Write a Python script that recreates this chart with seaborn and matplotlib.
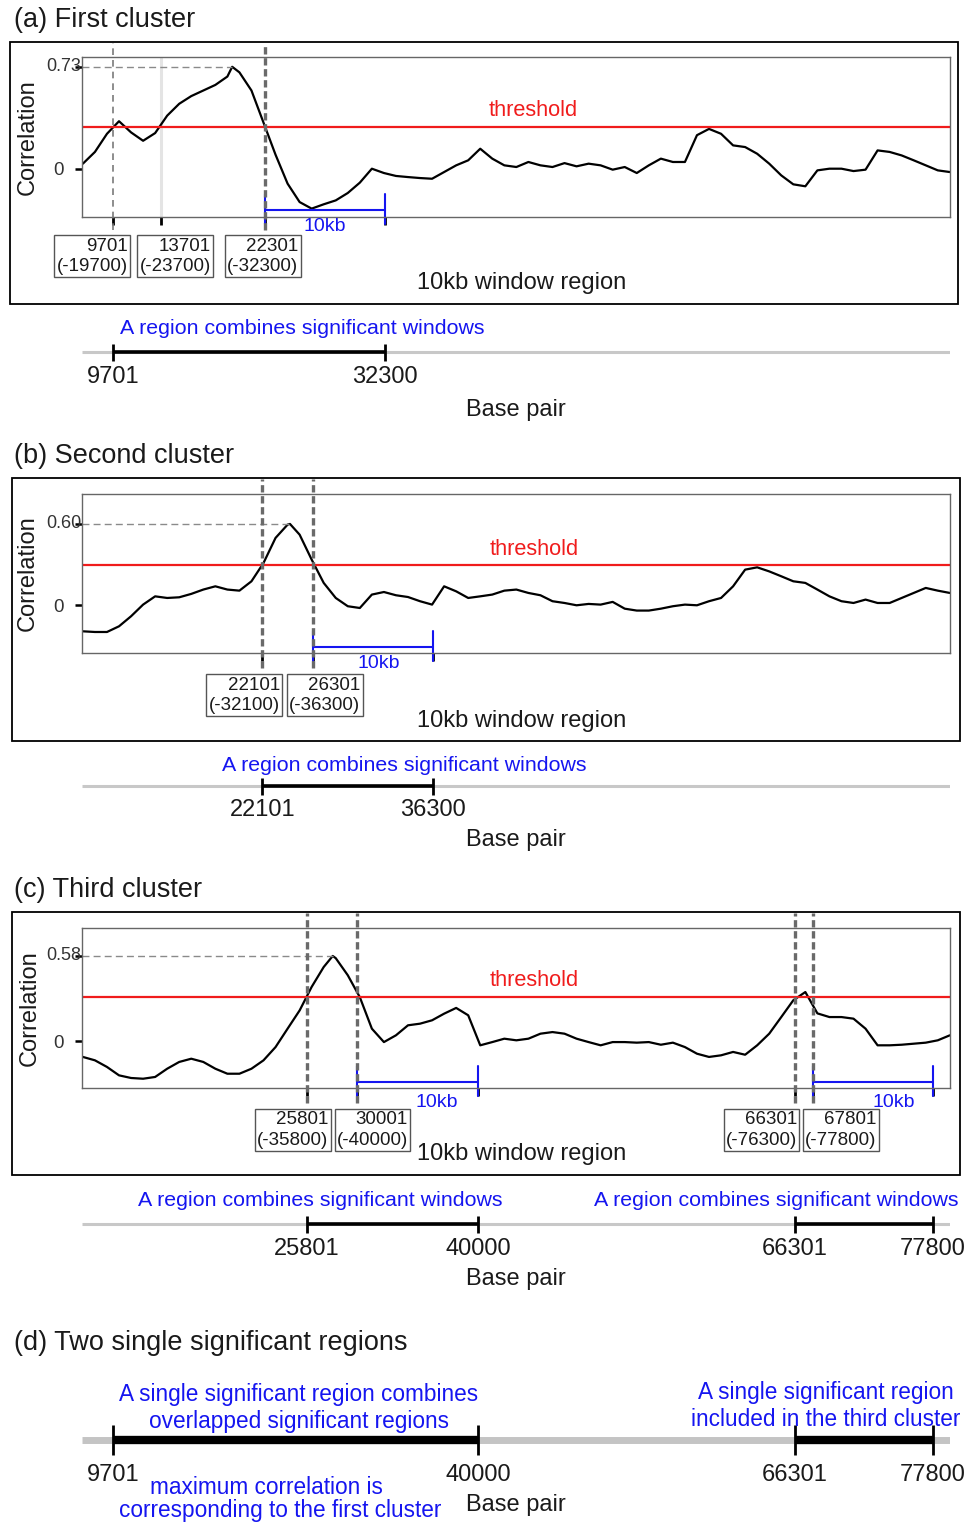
import numpy as np
import pandas as pd
import matplotlib
matplotlib.use("Agg")
import matplotlib.pyplot as plt
import seaborn as sns

sns.set_style("white")
plt.rcParams["font.family"] = ["Liberation Sans", "DejaVu Sans"]

W, H = 976, 1523

# ---- data ----
# window start (bp), sampled every 1000 bp
window_start = list(range(7200, 79201, 1000))

corr_a = [0.036, 0.12, 0.25, 0.34, 0.26, 0.20, 0.255, 0.38, 0.465, 0.52,
          0.56, 0.60, 0.66, 0.69, 0.56, 0.33, 0.10, -0.107, -0.239, -0.286,
          -0.255, -0.227, -0.174, -0.10, 0.0, -0.031, -0.052, -0.06, -0.067, -0.072,
          -0.024, 0.024, 0.06, 0.143, 0.072, 0.024, 0.012, 0.048, 0.024, 0.012,
          0.04, 0.017, 0.036, 0.024, -0.007, 0.012, -0.031, 0.024, 0.072, 0.048,
          0.048, 0.24, 0.285, 0.25, 0.167, 0.155, 0.107, 0.036, -0.048, -0.112,
          -0.126, -0.012, 0.0, 0.0, -0.017, -0.007, 0.131, 0.12, 0.095, 0.06,
          0.024, -0.012, -0.024]

corr_b = [-0.192, -0.197, -0.197, -0.155, -0.081, 0.005, 0.066, 0.054, 0.059, 0.084,
          0.116, 0.14, 0.116, 0.108, 0.177, 0.312, 0.497, 0.595, 0.521, 0.337,
          0.165, 0.054, -0.007, -0.02, 0.079, 0.098, 0.074, 0.061, 0.03, 0.005,
          0.14, 0.103, 0.054, 0.066, 0.079, 0.108, 0.116, 0.091, 0.074, 0.03,
          0.017, 0.0, 0.01, 0.005, 0.025, -0.025, -0.039, -0.039, -0.025, -0.007,
          0.005, 0.0, 0.03, 0.054, 0.14, 0.263, 0.28, 0.25, 0.214, 0.177,
          0.165, 0.116, 0.066, 0.03, 0.017, 0.042, 0.017, 0.017, 0.054, 0.091,
          0.128, 0.108, 0.091]

corr_c = [-0.106, -0.129, -0.174, -0.231, -0.249, -0.254, -0.242, -0.186, -0.14, -0.118,
          -0.14, -0.186, -0.22, -0.22, -0.186, -0.129, -0.039, 0.086, 0.21, 0.37,
          0.505, 0.565, 0.449, 0.30, 0.086, -0.005, 0.041, 0.109, 0.12, 0.143,
          0.188, 0.227, 0.177, -0.027, -0.005, 0.018, 0.007, 0.018, 0.052, 0.063,
          0.052, 0.018, -0.005, -0.027, -0.005, -0.005, -0.009, -0.005, -0.023, -0.009,
          -0.039, -0.084, -0.106, -0.095, -0.072, -0.091, -0.027, 0.052, 0.165, 0.279,
          0.335, 0.19, 0.165, 0.165, 0.154, 0.086, -0.027, -0.027, -0.023, -0.016,
          -0.009, 0.007, 0.041]

# maximum of each cluster (window start, correlation)
peak_a = [19600, 0.73]
peak_b = [24400, 0.60]
peak_c = [27950, 0.58]

threshold = 0.30

# significant window starts and their window ends
starts_a = [9701, 13701, 22301]
ends_a = [19700, 23700, 32300]
starts_b = [22101, 26301]
ends_b = [32100, 36300]
starts_c = [25801, 30001, 66301, 67801]
ends_c = [35800, 40000, 76300, 77800]

# 10kb brackets
brackets_a = [[22301, 32301]]
brackets_b = [[26301, 36301]]
brackets_c = [[30001, 40001], [67801, 77801]]

# combined regions (base pair)
regions_a = [[9701, 32300]]
regions_b = [[22101, 36300]]
regions_c = [[25801, 40000], [66301, 77800]]
regions_d = [[9701, 40000], [66301, 77800]]

XLIM = (7126, 79214)

fig = plt.figure(figsize=(W / 100, H / 100), dpi=100)
TXT = "#1a1a1a"
BLUE = "#1515f0"
RED = "#f01c1c"


def axes_px(left, top, right, bottom):
    return fig.add_axes([left / W, 1 - bottom / H, (right - left) / W, (bottom - top) / H])


def ftext(x, y, s, **kw):
    kw.setdefault("color", TXT)
    kw.setdefault("va", "center")
    fig.text(x / W, 1 - y / H, s, **kw)


def frame_px(left, top, right, bottom):
    fig.add_artist(plt.Rectangle((left / W, 1 - bottom / H), (right - left) / W,
                                 (bottom - top) / H, transform=fig.transFigure,
                                 fill=False, ec="black", lw=1.3))


THICK = dict(color="#6a6a6a", lw=2.4, ls=(0, (2.2, 1.1)))
THIN = dict(color="#7a7a7a", lw=1.2, ls=(0, (4, 3)))
LIGHT = dict(color="#e4e4e4", lw=2.2, ls="-")


def corr_panel(top, bottom, ylim, corr, peak, starts, ends, styles, box_dx,
               brackets, kb_dx, line_top, line_bot, box_y, br_y, kb_y):
    ax = axes_px(82, top, 950, bottom)
    df = pd.DataFrame({"window": window_start + [peak[0]], "corr": corr + [peak[1]]})
    df = df.sort_values("window")
    sns.lineplot(data=df, x="window", y="corr", color="black", lw=1.6,
                 estimator=None, ax=ax)
    ax.set_xlim(XLIM)
    ax.set_ylim(ylim)
    ax.axhline(threshold, color=RED, lw=1.6)
    ax.plot([XLIM[0], peak[0]], [peak[1], peak[1]], color="#8a8a8a", lw=1.0,
            ls=(0, (5, 3)))

    h = bottom - top
    for x, st in zip(starts, styles):
        if st is LIGHT:
            ax.axvline(x, 0, 1, zorder=1, **st)
        else:
            ax.axvline(x, (bottom - line_bot) / h, (bottom - line_top) / h,
                       clip_on=False, zorder=3, **st)

    for x, e, dx in zip(starts, ends, box_dx):
        ax.annotate(f"{x}\n(-{e})", xy=(x, box_y), xycoords=("data", "axes fraction"),
                    xytext=(dx, 0), textcoords="offset pixels", ha="center",
                    va="center", multialignment="right", fontsize=13.5, color=TXT,
                    linespacing=1.25,
                    bbox=dict(boxstyle="square,pad=0.12", fc="white", ec="#555555", lw=1))

    tr = ax.get_xaxis_transform()
    ticks = list(starts)
    for (s, e), dx in zip(brackets, kb_dx):
        ax.plot([s, e], [br_y, br_y], color=BLUE, lw=1.5, transform=tr, clip_on=False)
        for x in (s, e):
            ax.plot([x, x], [br_y + 0.1, br_y - 0.09], color=BLUE, lw=1.5,
                    transform=tr, clip_on=False)
        ax.annotate("10kb", xy=((s + e) / 2, kb_y), xycoords=("data", "axes fraction"),
                    xytext=(dx, 0), textcoords="offset pixels", ha="center",
                    va="center", fontsize=14, color=BLUE)
        ticks.append(e)

    ax.set_xticks(sorted(ticks))
    ax.set_xticklabels([])
    ax.tick_params(axis="x", length=6, width=2, color="black", direction="out", bottom=True)
    ax.set_yticks([0, peak[1]])
    ax.set_yticklabels(["0", ""])
    ax.tick_params(axis="y", length=5, width=1.8, color="black", labelsize=13.5,
                   labelcolor="#333333", pad=8, left=True)
    # the maximum is labelled right against the axis
    ax.annotate(f"{peak[1]:.2f}", xy=(XLIM[0], peak[1]), xytext=(-1, 0),
                textcoords="offset pixels", ha="right", va="center",
                fontsize=13, color="#333333")
    ax.set_xlabel("")
    ax.set_ylabel("")
    for sp in ax.spines.values():
        sp.set_color("#666666")
        sp.set_linewidth(1.0)
    return ax


def bp_axes(top, bottom, y, regions, labels_y, thick=False):
    ax = axes_px(82, top, 950, bottom)
    ax.set_xlim(XLIM)
    ax.set_ylim(bottom, top)
    ax.axis("off")
    if thick:
        ax.plot(XLIM, [y, y], color="#c4c4c4", lw=5, solid_capstyle="butt")
        seg_lw, tick_half = 6, 15
    else:
        ax.plot(XLIM, [y, y], color="#c8c8c8", lw=2.2, solid_capstyle="butt")
        seg_lw, tick_half = 2.6, 8.5
    for s, e in regions:
        ax.plot([s, e], [y, y], color="black", lw=seg_lw, solid_capstyle="butt")
        ax.vlines([s, e], y - tick_half, y + tick_half, color="black", lw=2)
        for x in (s, e):
            ax.text(x, labels_y, str(x), ha="center", va="center", fontsize=17,
                    color=TXT)
    return ax


# ---- (a) ----
ftext(14, 20, "(a) First cluster", fontsize=19.5)
frame_px(10, 42, 958, 304)
corr_panel(57, 217, (-0.346, 0.80), corr_a, peak_a, starts_a, ends_a,
           [THIN, LIGHT, THICK], [-21, 14, -2], brackets_a, [0],
           43, 230, -0.245, 0.045, -0.06)
ftext(28, 137, "Correlation", fontsize=17, rotation=90, ha="center")
ftext(533, 110, "threshold", fontsize=15.7, color=RED, ha="center")
ftext(522, 283, "10kb window region", fontsize=17, ha="center")
bp_axes(315, 395, 352, regions_a, 377)
ftext(302, 329, "A region combines significant windows", fontsize=15.4, color=BLUE, ha="center")
ftext(516, 410, "Base pair", fontsize=17, ha="center")

# ---- (b) ----
ftext(14, 456, "(b) Second cluster", fontsize=19.5)
frame_px(12, 478, 960, 741)
corr_panel(494, 653, (-0.352, 0.821), corr_b, peak_b, starts_b, ends_b,
           [THICK, THICK], [-18, 12], brackets_b, [6],
           479, 668, -0.265, 0.04, -0.065)
ftext(28, 573, "Correlation", fontsize=17, rotation=90, ha="center")
ftext(534, 549, "threshold", fontsize=15.7, color=RED, ha="center")
ftext(522, 721, "10kb window region", fontsize=17, ha="center")
bp_axes(750, 825, 786, regions_b, 810)
ftext(404, 766, "A region combines significant windows", fontsize=15.4, color=BLUE, ha="center")
ftext(516, 840, "Base pair", fontsize=17, ha="center")

# ---- (c) ----
ftext(14, 890, "(c) Third cluster", fontsize=19.5)
frame_px(12, 912, 960, 1175)
corr_panel(928, 1088, (-0.317, 0.77), corr_c, peak_c, starts_c, ends_c,
           [THICK, THICK, THICK, THICK], [-14, 15, -33, 28], brackets_c, [19, 21],
           913, 1103, -0.262, 0.04, -0.088)
ftext(30, 1008, "Correlation", fontsize=17, rotation=90, ha="center")
ftext(534, 981, "threshold", fontsize=15.7, color=RED, ha="center")
ftext(522, 1154, "10kb window region", fontsize=17, ha="center")
bp_axes(1185, 1265, 1224, regions_c, 1249)
ftext(320, 1201, "A region combines significant windows", fontsize=15.4, color=BLUE, ha="center")
ftext(776, 1201, "A region combines significant windows", fontsize=15.4, color=BLUE, ha="center")
ftext(516, 1279, "Base pair", fontsize=17, ha="center")

# ---- (d) ----
ftext(14, 1343, "(d) Two single significant regions", fontsize=19.5)
bp_axes(1405, 1490, 1440, regions_d, 1475, thick=True)
ftext(299, 1408, "A single significant region combines\noverlapped significant regions",
      fontsize=16.3, color=BLUE, ha="center", linespacing=1.2)
ftext(826, 1406, "A single significant region\nincluded in the third cluster",
      fontsize=16.3, color=BLUE, ha="center", linespacing=1.2)
ftext(266, 1487, "maximum correlation is", fontsize=16.3, color=BLUE, ha="center")
ftext(280, 1511, "corresponding to the first cluster", fontsize=16.3, color=BLUE,
      ha="center")
ftext(516, 1505, "Base pair", fontsize=17, ha="center")

fig.savefig("out.png", dpi=100)
